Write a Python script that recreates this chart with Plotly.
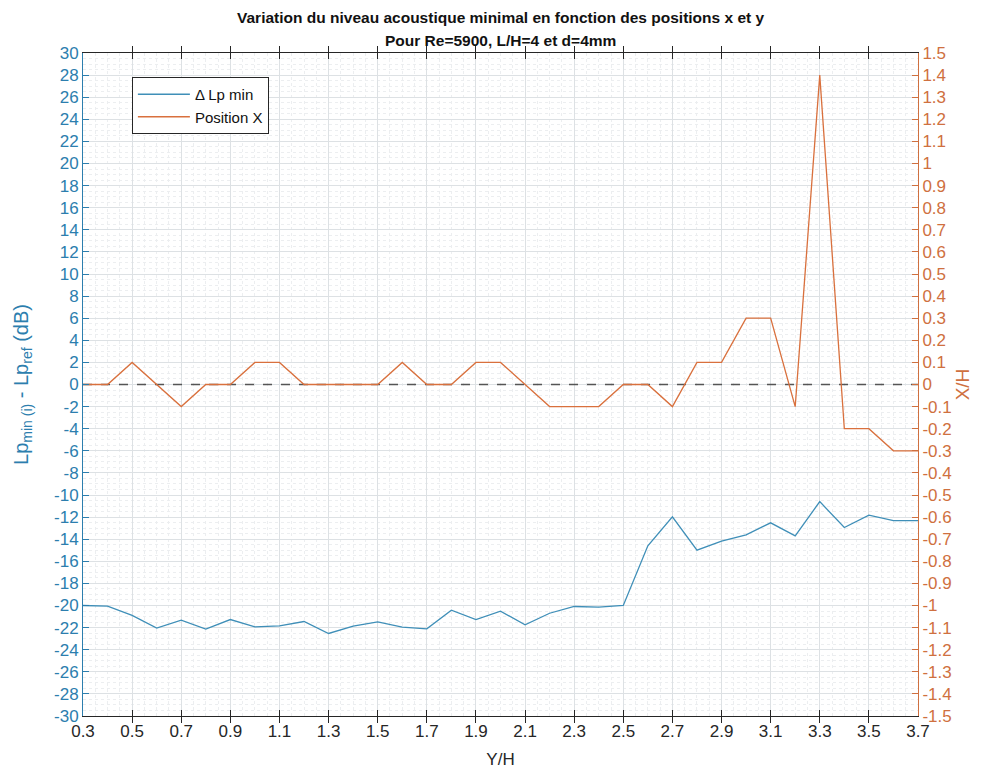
import plotly.graph_objects as go

# ---------------- data ----------------
y_over_h = [0.3, 0.4, 0.5, 0.6, 0.7, 0.8, 0.9, 1.0, 1.1, 1.2, 1.3, 1.4, 1.5, 1.6, 1.7, 1.8,
            1.9, 2.0, 2.1, 2.2, 2.3, 2.4, 2.5, 2.6, 2.7, 2.8, 2.9, 3.0, 3.1, 3.2, 3.3, 3.4,
            3.5, 3.6, 3.7]
delta_lp_min = [-20.0, -20.05, -20.9, -22.05, -21.33, -22.14, -21.27, -21.93, -21.84, -21.45,
                -22.53, -21.87, -21.48, -21.96, -22.11, -20.42, -21.27, -20.51, -21.75, -20.7,
                -20.09, -20.15, -20.0, -14.6, -11.97, -14.99, -14.18, -13.6, -12.52, -13.7,
                -10.6, -12.94, -11.83, -12.31, -12.31]
position_x = [0.0, 0.0, 0.1, 0.0, -0.1, 0.0, 0.0, 0.1, 0.1, 0.0, 0.0, 0.0, 0.0, 0.1, 0.0, 0.0,
              0.1, 0.1, 0.0, -0.1, -0.1, -0.1, 0.0, 0.0, -0.1, 0.1, 0.1, 0.3, 0.3, -0.1, 1.4,
              -0.2, -0.2, -0.3, -0.3]

x_ticks = [round(0.3 + 0.2 * i, 1) for i in range(18)]
left_ticks = list(range(-30, 31, 2))
right_ticks = [round(-1.5 + 0.1 * i, 1) for i in range(31)]

title_line1 = "Variation du niveau acoustique minimal en fonction des positions x et y"
title_line2 = "Pour Re=5900, L/H=4 et d=4mm"
legend_names = ["\u0394 Lp min", "Position X"]


def fmt(v):
    return "%g" % v


BLUE_LINE = "#3f8fb8"
BLUE_TXT = "#2c7eae"
ORANGE_LINE = "#d9703d"
ORANGE_TXT = "#cf7040"
DARK = "#262626"
FONT = "Liberation Sans, Arial, sans-serif"

# page body has an 8px margin, so the layout is shifted by 8px
L, T, PW, PH = 73, 45, 837, 663
W, H = 985, 771

fig = go.Figure()

fig.add_trace(go.Scatter(x=[y_over_h[0], y_over_h[-1]], y=[0, 0], mode="lines",
                         line=dict(color="#555555", width=1.5, dash="dash"),
                         showlegend=False, hoverinfo="skip", yaxis="y"))
fig.add_trace(go.Scatter(x=y_over_h, y=delta_lp_min, mode="lines", name=legend_names[0],
                         line=dict(color=BLUE_LINE, width=1.3), yaxis="y"))
fig.add_trace(go.Scatter(x=y_over_h, y=position_x, mode="lines", name=legend_names[1],
                         line=dict(color=ORANGE_LINE, width=1.3), yaxis="y2"))


def py(pix):
    """page pixel y (reference) -> paper coordinate"""
    return (T + PH - (pix - 8)) / PH


fig.add_annotation(text="<b>" + title_line1 + "</b>", xref="paper", yref="paper",
                   x=0.5, y=py(18), xanchor="center", yanchor="middle", showarrow=False,
                   borderpad=0,
                   font=dict(family=FONT, size=15.5, color="#111111"))
fig.add_annotation(text="<b>" + title_line2 + "</b>", xref="paper", yref="paper",
                   x=0.5, y=py(40), xanchor="center", yanchor="middle", showarrow=False,
                   borderpad=0,
                   font=dict(family=FONT, size=15.5, color="#111111"))

fig.update_layout(
    width=W, height=H,
    margin=dict(l=L, r=W - L - PW, t=T, b=H - T - PH),
    paper_bgcolor="white", plot_bgcolor="white",
    font=dict(family=FONT, size=17, color=DARK),
    showlegend=True,
    legend=dict(x=(130 - 81) / PW, y=py(77), xanchor="left", yanchor="top",
                bgcolor="white", bordercolor=DARK, borderwidth=1,
                font=dict(family=FONT, size=15, color="#111111"),
                tracegroupgap=0, itemwidth=52),
    xaxis=dict(range=[0.3, 3.7], tickvals=x_ticks, ticktext=[fmt(v) for v in x_ticks],
               ticks="inside", ticklen=6, tickcolor=DARK, showline=True, linecolor=DARK,
               linewidth=1, mirror="allticks", zeroline=False,
               showgrid=True, gridcolor="#dde1e4", gridwidth=1,
               minor=dict(dtick=0.05, showgrid=True, gridcolor="#eceef0", griddash="dot",
                          gridwidth=1),
               tickfont=dict(size=17, color=DARK),
               title=dict(text="Y/H", font=dict(size=17, color=DARK), standoff=12)),
    yaxis=dict(range=[-30, 30], tickvals=left_ticks, ticktext=[fmt(v) for v in left_ticks],
               ticks="inside", ticklen=6, tickcolor=BLUE_TXT, showline=True,
               linecolor=BLUE_TXT, linewidth=1, zeroline=False,
               showgrid=True, gridcolor="#dde1e4", gridwidth=1,
               minor=dict(dtick=0.5, showgrid=True, gridcolor="#eceef0", griddash="dot",
                          gridwidth=1),
               tickfont=dict(size=17, color=BLUE_TXT),
               title=dict(text="Lp<sub>min (i)</sub> - Lp<sub>ref</sub> (dB)",
                          font=dict(size=20, color=BLUE_TXT), standoff=20)),
    yaxis2=dict(range=[-1.5, 1.5], overlaying="y", side="right",
                tickvals=right_ticks, ticktext=[fmt(v) for v in right_ticks],
                ticks="inside", ticklen=6, tickcolor=ORANGE_TXT, showline=True,
                linecolor=ORANGE_TXT, linewidth=1, zeroline=False, showgrid=False,
                tickfont=dict(size=17, color=ORANGE_TXT),
                title=dict(text="X/H", font=dict(size=19, color=ORANGE_TXT), standoff=2)),
)

fig.write_html("out.html")
